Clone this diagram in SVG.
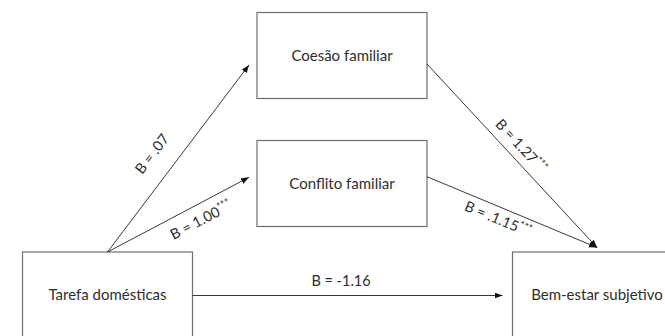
<svg xmlns="http://www.w3.org/2000/svg" width="665" height="336" viewBox="0 0 665 336">
<style>
.box{fill:#fff;stroke:#6e6e6e;stroke-width:1.2}
.node{font-family:Lato,"Open Sans","Liberation Sans",sans-serif;font-size:15px;fill:#2e2e2e;text-anchor:middle}
.lbl{font-family:Lato,"Open Sans","Liberation Sans",sans-serif;font-size:14.5px;fill:#2e2e2e;text-anchor:middle}
.sup{font-size:10.5px}
.edge{stroke:#222;stroke-width:0.9;fill:none;marker-end:url(#ah)}
</style>
<defs>
<marker id="ah" markerUnits="userSpaceOnUse" markerWidth="9" markerHeight="7" refX="8" refY="3" orient="auto">
<path d="M0,0 L8,3 L0,6 z" fill="#111"/>
</marker>
</defs>
<rect width="665" height="336" fill="#fff"/>
<g id="coesao"><rect class="box" x="257" y="12.5" width="170" height="86"/><text class="node" x="342" y="60.5">Coesão familiar</text></g>
<g id="conflito"><rect class="box" x="257" y="140.5" width="170" height="86"/><text class="node" x="342" y="188.5">Conflito familiar</text></g>
<g id="tarefa"><rect class="box" x="22.5" y="252" width="170" height="90"/><text class="node" x="107.5" y="299.5">Tarefa domésticas</text></g>
<g id="bemestar"><rect class="box" x="512.5" y="252" width="170" height="90"/><text class="node" x="597" y="299.5">Bem-estar subjetivo</text></g>
<g id="connectors">
<line class="edge" x1="107.5" y1="252" x2="249" y2="65"/>
<line class="edge" x1="107.5" y1="252" x2="249" y2="177.3"/>
<line class="edge" x1="192.5" y1="295.5" x2="502.5" y2="295.5"/>
<line class="edge" x1="427" y1="64" x2="597" y2="247.5"/>
<line class="edge" x1="427" y1="176.7" x2="597" y2="247.5"/>
<text class="lbl" transform="translate(152,154) rotate(-52.8)" x="0" y="5">B = .07</text>
<text class="lbl" transform="translate(201,220) rotate(-27.7)" x="0" y="5">B = 1.00<tspan class="sup" dy="-5">***</tspan></text>
<text class="lbl" transform="translate(521,146) rotate(47.2)" x="0" y="5">B = 1.27<tspan class="sup" dy="-5">***</tspan></text>
<text class="lbl" transform="translate(498,219) rotate(22.6)" x="0" y="5">B = .1.15<tspan class="sup" dy="-5">***</tspan></text>
<text class="lbl" x="341" y="285.5">B = -1.16</text>
</g>
</svg>
